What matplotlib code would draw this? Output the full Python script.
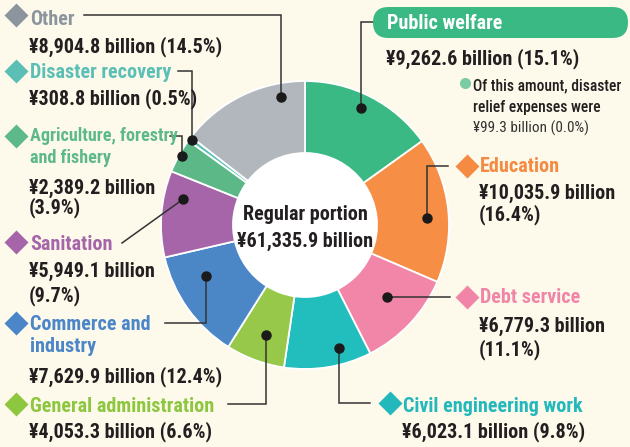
import matplotlib
matplotlib.use("Agg")
import matplotlib.pyplot as plt
from matplotlib import font_manager as fm
from matplotlib.patches import FancyBboxPatch, Circle
import numpy as np

# ---------------- data ----------------
categories = ["Public welfare", "Education", "Debt service", "Civil engineering work",
              "General administration", "Commerce and industry", "Sanitation",
              "Agriculture, forestry and fishery", "Disaster recovery", "Other"]
amounts = [9262.6, 10035.9, 6779.3, 6023.1, 4053.3, 7629.9, 5949.1, 2389.2, 308.8, 8904.8]
shares = [15.1, 16.4, 11.1, 9.8, 6.6, 12.4, 9.7, 3.9, 0.5, 14.5]
total_amount = 61335.9
relief_amount = 99.3
relief_share = 0.0

# ---------------- style ----------------
colors = ["#3BB985", "#F78E45", "#F286A8", "#22BDBD", "#97C84A",
          "#4B86C6", "#A565A8", "#5DB887", "#5BC1B8", "#B1B7BC"]
title_colors = ["#FFFFFF", "#F58A42", "#F085A8", "#22B8BC", "#8DC63F",
                "#4A86C8", "#A565A8", "#5DB88A", "#5BBFB5", "#8C959D"]
BG = "#FDFAEB"
DARK = "#231F20"

names = {f.name for f in fm.fontManager.ttflist}
cond = [f for f in fm.fontManager.ttflist if f.name == "DejaVu Sans" and "ondensed" in str(f.stretch)]
if "Roboto Condensed" in names:
    FAM, STRETCH, FS = "Roboto Condensed", "normal", 14.5
elif "Liberation Sans Narrow" in names:
    FAM, STRETCH, FS = "Liberation Sans Narrow", "normal", 14.5
elif cond:
    FAM, STRETCH, FS = "DejaVu Sans", "condensed", 12.5
else:
    FAM, STRETCH, FS = "Roboto", "normal", 12.5

W, H = 630, 447
fig = plt.figure(figsize=(W / 100, H / 100), dpi=100)
fig.patch.set_facecolor(BG)
ax = fig.add_axes([0, 0, 1, 1])
ax.set_facecolor(BG)

CX, CY = 305, H - 225
R_OUT, R_IN = 144, 72

wedges, _ = ax.pie(amounts, colors=colors, startangle=90, counterclock=False,
                   center=(CX, CY), radius=R_OUT,
                   wedgeprops=dict(width=R_OUT - R_IN, edgecolor="white", linewidth=1.3))
ax.add_patch(Circle((CX, CY), R_IN, facecolor="white", edgecolor="none", zorder=3))
ax.set_xlim(0, W)
ax.set_ylim(0, H)
ax.set_aspect("equal")
ax.axis("off")

def Y(y):
    return H - y

def txt(x, y, s, color=DARK, size=None, weight="bold", ha="left", **kw):
    ax.text(x, Y(y), s, color=color, fontsize=size or FS, fontweight=weight,
            family=FAM, stretch=STRETCH, ha=ha, va="baseline", zorder=6, **kw)

# dot placement inside each wedge: (fraction along wedge clockwise, radius)
dot_place = [(0.47, 130), (0.55, 122), (0.45, 109), (0.32, 128), (0.47, 117),
             (0.68, 112), (0.71, 125), (0.53, 141), (0.5, 141), (0.80, 130)]

# label layout in pixel coords (y from top)
# leader: list of points, 'X' means dot x, 'Y' dot y
layout = [
    dict(x=387, title=[("Public welfare", 29)], vals=[(None, 64)], diamond=None,
         leader=[(373, 22), ("X", 22)], tscale=1.0),
    dict(x=480, title=[("Education", 172)], vals=[(0, 199), (1, 220)], diamond=(467, 166),
         leader=[(448, 166), ("X", 166)], tscale=1.0),
    dict(x=480, title=[("Debt service", 303)], vals=[(0, 332), (1, 355)], diamond=(467, 297),
         leader=[(450, "Y")], tscale=1.0),
    dict(x=403, title=[("Civil engineering work", 412)], vals=[(None, 437)], diamond=(390, 403),
         leader=[(370, 403), ("X", 403)], tscale=1.0),
    dict(x=30, title=[("General administration", 412)], vals=[(None, 437)], diamond=(16, 404),
         leader=[(228, 404), ("X", 404)], tscale=1.0),
    dict(x=30, title=[("Commerce and", 330), ("industry", 352)], vals=[(None, 382)], diamond=(16, 323),
         leader=[(165, 323), ("X", 323)], tscale=1.0),
    dict(x=30, title=[("Sanitation", 250)], vals=[(0, 277), (1, 301)], diamond=(16, 242),
         leader=[(122, 243)], tscale=1.0),
    dict(x=30, title=[("Agriculture, forestry", 141), ("and fishery", 163)], vals=[(0, 194), (1, 213)],
         diamond=(16, 136), leader=[(170, 136), ("X", 136)], tscale=0.9),
    dict(x=30, title=[("Disaster recovery", 78)], vals=[(None, 104)], diamond=(16, 71),
         leader=[(178, 71), ("X", 71)], tscale=1.0),
    dict(x=30, title=[("Other", 25)], vals=[(None, 52)], diamond=(16, 15),
         leader=[(84, 15), ("X", 15)], tscale=1.0),
]

for i, (w, lay) in enumerate(zip(wedges, layout)):
    frac, rr = dot_place[i]
    ang = np.deg2rad(w.theta2 - frac * (w.theta2 - w.theta1))
    dx = CX + rr * np.cos(ang)
    dy = CY + rr * np.sin(ang)
    pts = []
    for px, py in lay["leader"]:
        xx = dx if px == "X" else px
        yy = dy if py == "Y" else Y(py)
        pts.append((xx, yy))
    pts.append((dx, dy))
    xs, ys = zip(*pts)
    ax.plot(xs, ys, color="#333333", lw=1.1, zorder=4, solid_joinstyle="miter")
    ax.plot([dx], [dy], "o", color="#1A1A1A", ms=6.5, zorder=5)

    full = f"\u00a5{amounts[i]:,.1f} billion ({shares[i]:.1f}%)"
    parts = [f"\u00a5{amounts[i]:,.1f} billion", f"({shares[i]:.1f}%)"]
    for s, yb in lay["title"]:
        txt(lay["x"], yb, s, color=title_colors[i], size=FS * lay["tscale"])
    for k, yb in lay["vals"]:
        txt(lay["x"] - 1, yb, full if k is None else parts[k])
    if lay["diamond"]:
        ax.plot([lay["diamond"][0]], [Y(lay["diamond"][1])], "D", color=title_colors[i],
                ms=12.5, mec="none", zorder=5)

# Public welfare pill
pill = FancyBboxPatch((373, Y(38)), 628 - 373, 31,
                      boxstyle="round,pad=0,rounding_size=15.5", facecolor=colors[0],
                      edgecolor="none", zorder=5)
ax.add_patch(pill)

# note about disaster relief
ax.plot([465], [Y(83)], "o", color="#7CCBA5", ms=8, mec="none", zorder=5)
txt(473, 90, "Of this amount, disaster", size=FS * 0.77, weight="medium")
txt(473, 112, "relief expenses were", size=FS * 0.77, weight="medium")
txt(473, 133, f"\u00a5{relief_amount:.1f} billion ({relief_share:.1f}%)", size=FS * 0.76,
    weight="normal", color="#333333")

# center label
txt(CX, 220, "Regular portion", ha="center")
txt(CX, 247, f"\u00a5{total_amount:,.1f} billion", ha="center")

fig.savefig("out.png", dpi=100, facecolor=BG)
